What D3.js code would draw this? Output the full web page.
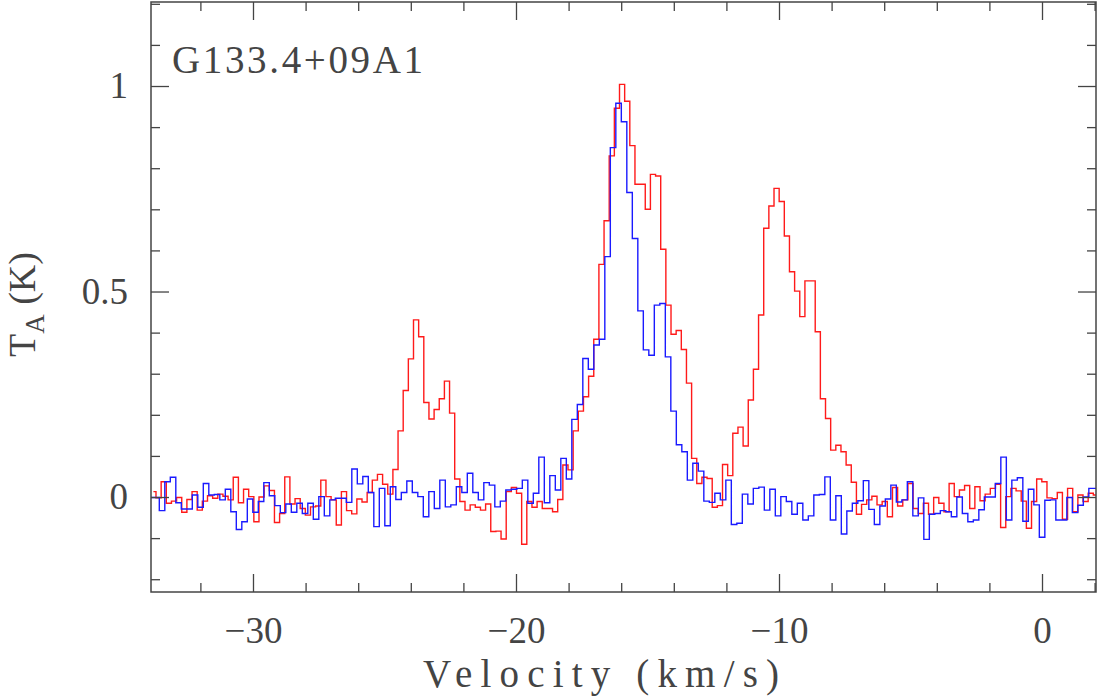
<!DOCTYPE html>
<html><head><meta charset="utf-8">
<script src="https://cdn.jsdelivr.net/npm/d3@7"></script>
<style>body{margin:0;background:#fff} svg{display:block}</style>
</head><body>
<svg id="chart" width="1098" height="696"></svg>
<script>
// ---- data ----
const title = "G133.4+09A1";
const xLabel = "Velocity (km/s)";
// red spectrum: channel centre velocity = redV0 + i*redDv
const redV0 = -33.786, redDv = 0.19582;
const redTA = [
 0.013,-0.002,0.037,-0.015,-0.010,-0.001,-0.037,-0.006,0.013,-0.032,
 -0.010,0.003,-0.003,0.007,0.002,-0.007,0.048,-0.014,0.019,0.001,
 -0.060,0.000,0.027,0.016,-0.062,-0.040,0.049,-0.017,-0.004,-0.028,
 -0.044,-0.024,-0.022,0.041,0.001,-0.007,-0.068,0.013,-0.033,-0.041,
 -0.005,-0.012,0.011,0.041,0.055,0.031,0.007,
 0.067,0.161,0.259,0.336,0.431,0.390,0.230,0.190,0.213,0.239,
 0.282,0.204,0.044,-0.011,-0.032,-0.019,-0.025,-0.032,-0.017,-0.084,
 -0.083,-0.102,0.013,0.023,0.009,-0.115,-0.011,-0.025,-0.011,-0.028,
 -0.028,-0.036,-0.006,0.078,0.066,0.161,0.209,0.244,0.294,0.384,
 0.566,0.672,0.830,0.946,1.004,0.963,0.855,0.761,0.761,0.700,
 0.785,0.781,0.603,0.467,0.396,0.405,0.359,0.277,0.094,0.033,
 0.048,0.045,-0.025,-0.021,0.079,0.052,0.155,0.170,0.124,0.236,
 0.311,0.443,0.654,0.708,0.751,0.719,0.635,0.548,0.501,0.439,
 0.526,0.526,0.402,0.239,0.191,0.114,0.126,0.110,0.078,0.036,
 -0.042,-0.018,-0.007,0.002,-0.019,-0.011,-0.048,0.023,-0.022,-0.007,
 0.033,-0.028,-0.040,-0.015,-0.042,-0.001,-0.015,-0.036,0.033,0.001,
 0.017,0.028,-0.028,0.025,-0.009,0.007,0.021,0.031,-0.074,0.001,
 0.021,0.015,-0.010,-0.076,-0.011,0.044,0.037,-0.002,-0.004,0.011,
 -0.054,0.021,-0.036,0.005,-0.011,0.009,0.005
];
// blue spectrum: channel centre velocity = blueV0 + i*blueDv
const blueV0 = -33.876, blueDv = 0.20913;
const blueTA = [
 -0.001,-0.001,-0.033,0.037,0.048,-0.014,-0.029,-0.029,0.005,-0.025,
 0.033,0.005,0.006,-0.007,0.019,-0.036,-0.079,-0.060,-0.005,-0.037,
 -0.011,0.035,0.003,-0.021,-0.038,-0.017,-0.037,-0.015,-0.040,-0.015,
 -0.054,0.001,-0.046,-0.007,-0.003,-0.003,-0.013,0.068,0.032,0.050,
 0.011,-0.072,0.021,-0.070,0.025,-0.006,0.011,0.039,0.011,0.001,
 -0.048,0.013,-0.028,0.041,-0.024,-0.019,0.025,0.011,0.058,0.011,
 -0.007,0.035,0.029,-0.024,-0.010,0.017,0.019,0.021,0.041,-0.015,
 0.009,0.097,-0.014,0.052,0.017,0.094,0.044,0.189,0.225,0.337,
 0.311,0.370,0.384,0.585,0.850,0.958,0.913,0.741,0.629,0.453,
 0.358,0.345,0.467,0.471,0.341,0.209,0.127,0.110,0.041,0.082,
 0.063,-0.010,-0.013,0.009,-0.007,0.041,-0.067,-0.064,0.007,-0.017,
 0.021,0.024,-0.032,0.019,-0.046,0.001,-0.011,-0.042,-0.015,-0.056,
 -0.046,0.005,0.006,0.049,-0.056,0.003,-0.090,-0.034,-0.015,-0.009,
 0.040,-0.030,-0.067,-0.022,-0.005,0.029,-0.012,-0.007,0.037,-0.046,
 -0.002,-0.103,-0.042,-0.040,-0.033,-0.036,-0.048,0.000,-0.040,-0.060,
 -0.056,-0.031,0.000,0.000,0.033,0.097,-0.056,0.041,0.047,-0.059,
 0.019,-0.019,-0.098,-0.008,-0.007,-0.056,-0.056,-0.001,-0.038,-0.020,
 0.000,0.021,0.021
];
const xDomain = [-33.878, 2.053];
const yDomain = [-0.2311, 1.2044];
const xMajorTicks = [-30, -20, -10, 0];
const xMinorTicks = [-32,-28,-26,-24,-22,-18,-16,-14,-12,-8,-6,-4,-2,2];
const yMajorTicks = [0, 0.5, 1];
const yMinorTicks = [-0.2,-0.1,0.1,0.2,0.3,0.4,0.6,0.7,0.8,0.9,1.1,1.2];
const xTickText = {"-30":"\u221230","-20":"\u221220","-10":"\u221210","0":"0"};
const yTickText = {"0":"0","0.5":"0.5","1":"1"};

// ---- layout ----
const L = 151, R = 1096, T = 2, B = 592;
const FONT = "'Liberation Serif','DejaVu Serif',serif";
const INK = "#444";
const svg = d3.select("#chart");
const x = d3.scaleLinear().domain(xDomain).range([L, R]);
const y = d3.scaleLinear().domain(yDomain).range([B, T]);

svg.append("defs").append("clipPath").attr("id","clip")
  .append("rect").attr("x",L).attr("y",T).attr("width",R-L).attr("height",B-T);

const redData = redTA.map((t,i)=>({v: redV0 + i*redDv, t}));
const blueData = blueTA.map((t,i)=>({v: blueV0 + i*blueDv, t}));
const line = d3.line().x(d=>x(d.v)).y(d=>y(d.t)).curve(d3.curveStep);

const plot = svg.append("g").attr("clip-path","url(#clip)");
plot.append("path").datum(redData).attr("d",line)
  .attr("fill","none").attr("stroke","#ff1a1a").attr("stroke-width",1.4);
plot.append("path").datum(blueData).attr("d",line)
  .attr("fill","none").attr("stroke","#1a1aff").attr("stroke-width",1.4);

function styleAxis(g){
  g.select(".domain").remove();
  g.selectAll(".tick line").attr("stroke",INK).attr("stroke-width",1.3);
  g.selectAll("text").attr("font-family",FONT).attr("font-size",37).attr("fill",INK);
}
// bottom
svg.append("g").attr("transform",`translate(0,${B})`)
  .call(d3.axisBottom(x).tickValues(xMajorTicks).tickSize(-18).tickPadding(25)
        .tickFormat(d=>xTickText[String(d)])).call(styleAxis);
svg.append("g").attr("transform",`translate(0,${B})`)
  .call(d3.axisBottom(x).tickValues(xMinorTicks).tickSize(-9).tickFormat("")).call(styleAxis);
// top
svg.append("g").attr("transform",`translate(0,${T})`)
  .call(d3.axisTop(x).tickValues(xMajorTicks).tickSize(-18).tickFormat("")).call(styleAxis);
svg.append("g").attr("transform",`translate(0,${T})`)
  .call(d3.axisTop(x).tickValues(xMinorTicks).tickSize(-9).tickFormat("")).call(styleAxis);
// left
svg.append("g").attr("transform",`translate(${L},0)`)
  .call(d3.axisLeft(y).tickValues(yMajorTicks).tickSize(-18).tickPadding(23)
        .tickFormat(d=>yTickText[String(d)])).call(styleAxis);
svg.append("g").attr("transform",`translate(${L},0)`)
  .call(d3.axisLeft(y).tickValues(yMinorTicks).tickSize(-9).tickFormat("")).call(styleAxis);
// right
svg.append("g").attr("transform",`translate(${R},0)`)
  .call(d3.axisRight(y).tickValues(yMajorTicks).tickSize(-18).tickFormat("")).call(styleAxis);
svg.append("g").attr("transform",`translate(${R},0)`)
  .call(d3.axisRight(y).tickValues(yMinorTicks).tickSize(-9).tickFormat("")).call(styleAxis);

// frame
svg.append("rect").attr("x",L).attr("y",T).attr("width",R-L).attr("height",B-T)
  .attr("fill","none").attr("stroke",INK).attr("stroke-width",1.5);

// title
svg.append("text").attr("x",172).attr("y",73).attr("font-family",FONT)
  .attr("font-size",39).attr("fill",INK).attr("textLength",251)
  .attr("lengthAdjust","spacing").text(title);

// x label
svg.append("text").attr("x",601).attr("y",687).attr("text-anchor","middle")
  .attr("font-family",FONT).attr("font-size",39).attr("fill",INK)
  .attr("textLength",356).attr("lengthAdjust","spacing").text(xLabel);

// y label
const yl = svg.append("text").attr("transform","translate(35,357) rotate(-90)")
  .attr("font-family",FONT).attr("font-size",38).attr("fill",INK);
yl.append("tspan").text("T");
yl.append("tspan").attr("dy",9).attr("font-size",27).text("A");
yl.append("tspan").attr("dy",-9).text(" (K)");
</script>
</body></html>
